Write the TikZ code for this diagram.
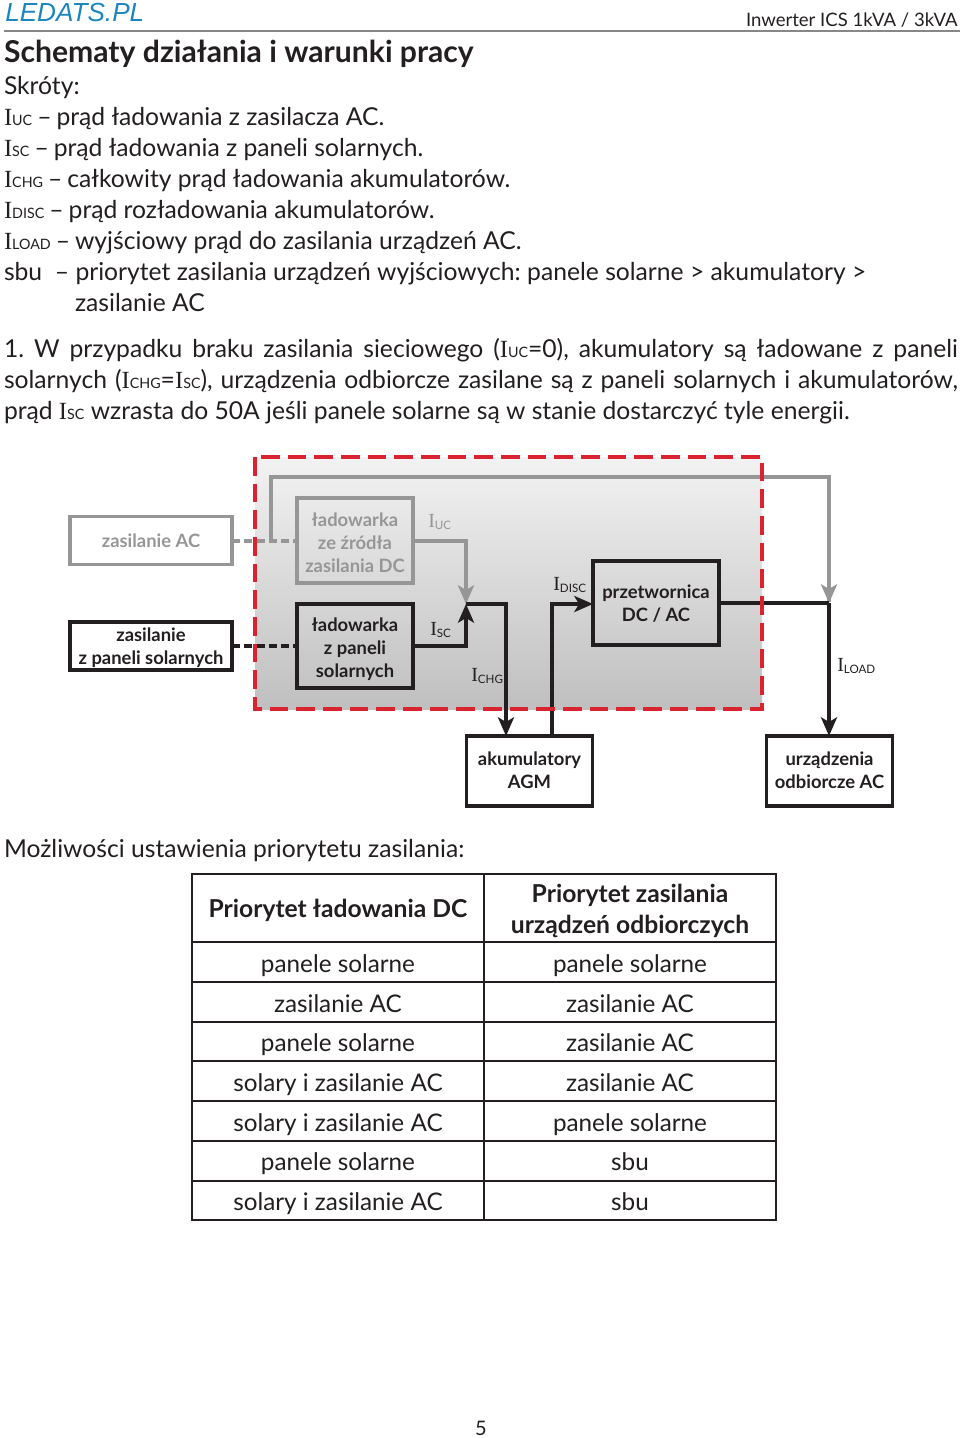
\documentclass[tikz,border=0pt]{standalone}
\usepackage{fontspec}
\usetikzlibrary{arrows.meta,shadings}
\setmainfont{Lato}
\newfontfamily\serifI{Liberation Serif}
\newfontfamily\logofont{Liberation Sans}
\definecolor{ink}{HTML}{231F20}
\definecolor{fade}{HTML}{969696}
\definecolor{redd}{HTML}{D9232E}
\frenchspacing
\newcommand\fs[1]{\fontsize{#1}{#1}\selectfont}
% current symbol: serif I + small sans subscript
\newcommand\cur[1]{{\serifI I}{\fontsize{0.58em}{1em}\selectfont #1}}
\newcommand\curd[1]{{\serifI I}\raisebox{-0.14em}{\fontsize{0.58em}{1em}\selectfont #1}}
\newcommand\dd{\kern-1pt\ –\ \kern-1pt}
% multi-line block text, with a vertical offset given in pt
\newcommand\stack[2]{\raisebox{\dimexpr-5.75pt-#1\relax}[0pt][0pt]{\begin{tabular}{@{}c@{}}#2\end{tabular}}}
\tikzset{
  x=0.75pt,y=-0.75pt,
  body/.style={anchor=base west,inner sep=0pt,outer sep=0pt,text=ink,font=\fs{18.5}},
  block/.style={draw=ink,line width=2.3pt,inner sep=0pt,outer sep=0pt,text=ink,font=\fontsize{13.8}{17.25}\selectfont\bfseries,fill=none},
  fadeblock/.style={block,draw=fade,text=fade},
  wire/.style={draw=ink,line width=3pt},
  fadewire/.style={draw=fade,line width=3pt},
  tip/.style={-{Stealth[length=14pt,width=12pt,inset=3.5pt]}},
  dotted wire/.style={line width=3pt,dash pattern=on 6pt off 3.2pt},
  lbl/.style={anchor=base west,inner sep=0pt,font=\fs{15},text=ink},
  cell/.style={inner sep=0pt,font=\fs{18.2},text=ink,align=center,anchor=base},
  rule/.style={draw=ink,line width=2.2pt},
}
\begin{document}
\begin{tikzpicture}
\useasboundingbox (0,0) rectangle (960,1438);
\fill[white] (0,0) rectangle (960,1438);
% header
\node[anchor=base west,inner sep=0pt,font=\logofont\itshape\fs{19.6}] (logo) at (5,22) {\textcolor[HTML]{1C86BE}{LEDATS.PL}};
\coordinate (hl) at (4,31); \coordinate (hr) at (960,31);
\draw[fade!90!black,line width=1pt] (hl) -- (hr);
\node[anchor=base east,inner sep=0pt,text=ink,font=\fs{13.9}] (hdr) at (958,27) {Inwerter ICS 1kVA / 3kVA};
\node[body,font=\fs{22.6}\bfseries] (title) at (4,63) {Schematy działania i warunki pracy};
\node[body] (t1) at (4,94) {Skróty:};
\node[body] (t2) at (4,125) {\cur{UC}\dd prąd ładowania z zasilacza AC.};
\node[body] (t3) at (4,156) {\cur{SC}\dd prąd ładowania z paneli solarnych.};
\node[body] (t4) at (4,187) {\cur{CHG}\dd całkowity prąd ładowania akumulatorów.};
\node[body] (t5) at (4,218) {\cur{DISC}\dd prąd rozładowania akumulatorów.};
\node[body] (t6) at (4,249) {\cur{LOAD}\dd wyjściowy prąd do zasilania urządzeń AC.};
\node[body] (t7) at (4,280) {sbu \ – priorytet zasilania urządzeń wyjściowych: panele solarne > akumulatory >};
\node[body] (t8) at (75,311) {zasilanie AC};
\node[body] (p1) at (4,357) {\hbox to 715.5pt{1. W przypadku braku zasilania sieciowego (\cur{UC}=0), akumulatory są ładowane z paneli}};
\node[body] (p2) at (4,388) {\hbox to 715.5pt{solarnych (\cur{CHG}=\cur{SC}), urządzenia odbiorcze zasilane są z paneli solarnych i akumulatorów,}};
\node[body] (p3) at (4,419) {prąd \cur{SC} wzrasta do 50A jeśli panele solarne są w stanie dostarczyć tyle energii.};
% control area
\shade[top color=black!5,bottom color=black!25] (255,457) rectangle (762,709);
% blocks
\node[fadeblock,fill=white,minimum width=121.5pt,minimum height=35.5pt] (ac) at (151,540.5) {\stack{-.5pt}{zasilanie AC}};
\node[block,fill=white,minimum width=121.5pt,minimum height=36pt] (pv) at (151,646) {\stack{-.4pt}{zasilanie\\z paneli solarnych}};
\node[fadeblock,minimum width=87pt,minimum height=63.75pt] (chac) at (355,540.5) {\stack{1.1pt}{ładowarka\\ze źródła\\zasilania DC}};
\node[block,minimum width=87pt,minimum height=63pt] (chpv) at (355,646) {\stack{.75pt}{ładowarka\\z paneli\\solarnych}};
\node[block,minimum width=94.5pt,minimum height=63pt] (inv) at (656,603) {\stack{-.4pt}{przetwornica\\DC / AC}};
\node[block,fill=white,minimum width=95pt,minimum height=52.5pt] (bat) at (529.5,771) {\stack{-1.1pt}{akumulatory\\AGM}};
\node[block,fill=white,minimum width=95pt,minimum height=52.5pt] (load) at (829.5,771) {\stack{-1.1pt}{urządzenia\\odbiorcze AC}};
% junctions
\coordinate (j) at (466,604);
\coordinate (bypass) at (271,477);
\coordinate (bypassr) at (829,477);
\coordinate (acj) at (271,540.5);
\coordinate (outj) at (829,603);
\coordinate (batin) at (506,771);
\coordinate (batout) at (552,771);
% connectors
\draw[fadewire,dotted wire] (ac.east) -- (chac.west);
\draw[draw=ink,dotted wire] (pv.east) -- (chpv.west);
\draw[fadewire,line join=miter] (acj) -- (bypass) -- (bypassr) -- (829,602);
\draw[fadewire,tip] (chac.east) -| (j);
\draw[fadewire,tip] (bypassr) -- (outj);
\draw[wire,tip] (chpv.east) -| (j);
\draw[wire] (j) -- (506,604) -- (506,700);
\draw[wire,tip] (506,700) -- (batin |- bat.north);
\draw[wire,tip] (batout |- bat.north) -- (552,604) -- (inv.west |- 552,604);
\draw[wire] (inv.east |- outj) -- (outj);
\draw[wire,tip] (outj) -- (outj |- load.north);
% dashed boundary
\draw[redd,line width=3pt,dash pattern=on 14pt off 6pt] (255,457) rectangle (762,709);
% labels
\node[lbl,text=fade] (liuc) at (428,527) {\curd{UC}};
\node[lbl] (lisc) at (430,635) {\curd{SC}};
\node[lbl] (lichg) at (471,681) {\curd{CHG}};
\node[lbl] (lidisc) at (553,590) {\curd{DISC}};
\node[lbl] (liload) at (837,671) {\curd{LOAD}};
% table
\node[body] (t9) at (4,857) {Możliwości ustawienia priorytetu zasilania:};
\draw[rule] (192,874) rectangle (776,1220);
\draw[rule] (484,874) -- (484,1220);
\foreach \yy in {942,982,1022,1061,1101,1141,1181} \draw[rule] (192,\yy) -- (776,\yy);
\node[cell,font=\fs{18.5}\bfseries] (h1) at (338,917) {Priorytet ładowania DC};
\node[cell,font=\fs{18.5}\bfseries] (h2a) at (630,902) {Priorytet zasilania};
\node[cell,font=\fs{18.5}\bfseries] (h2b) at (630,933) {urządzeń odbiorczych};
\node[cell] (a1) at (338,972.3) {panele solarne};
\node[cell] (b1) at (630,972.3) {panele solarne};
\node[cell] (a2) at (338,1012.3) {zasilanie AC};
\node[cell] (b2) at (630,1012.3) {zasilanie AC};
\node[cell] (a3) at (338,1051.3) {panele solarne};
\node[cell] (b3) at (630,1051.3) {zasilanie AC};
\node[cell] (a4) at (338,1091.3) {solary i zasilanie AC};
\node[cell] (b4) at (630,1091.3) {zasilanie AC};
\node[cell] (a5) at (338,1131.3) {solary i zasilanie AC};
\node[cell] (b5) at (630,1131.3) {panele solarne};
\node[cell] (a6) at (338,1170.3) {panele solarne};
\node[cell] (b6) at (630,1170.3) {sbu};
\node[cell] (a7) at (338,1210.3) {solary i zasilanie AC};
\node[cell] (b7) at (630,1210.3) {sbu};
\node[anchor=base,inner sep=0pt,text=ink,font=\fs{15}] (pg) at (481,1435) {5};
\end{tikzpicture}
\end{document}
